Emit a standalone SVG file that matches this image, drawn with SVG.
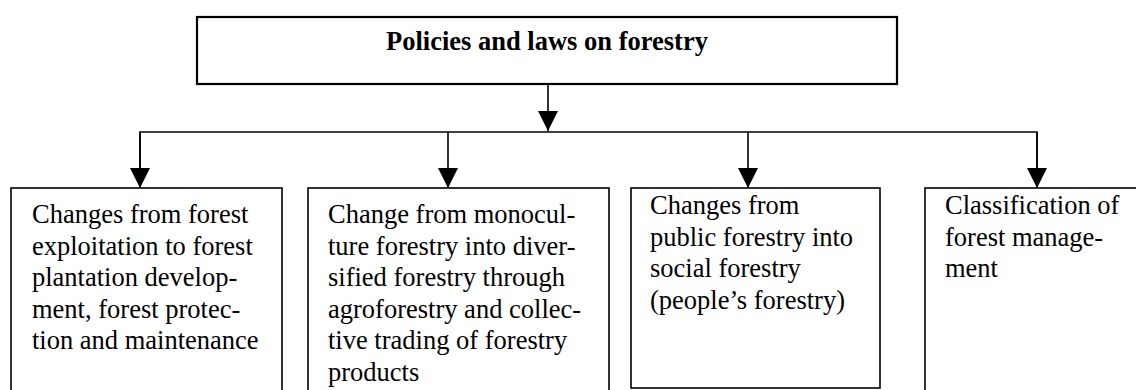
<svg xmlns="http://www.w3.org/2000/svg" width="1136" height="390" viewBox="0 0 1136 390">
<style>
.box{fill:#fff;stroke:#000;stroke-width:1.6}
.top{fill:#fff;stroke:#000;stroke-width:2.2}
.t{font-family:"Liberation Serif","Times New Roman",serif;font-size:26.5px;fill:#000}
.b{font-weight:bold;text-anchor:middle}
.c{fill:none;stroke:#000;stroke-width:1.6}
</style>
<defs>
<marker id="ah" markerUnits="userSpaceOnUse" markerWidth="20" markerHeight="20" refX="20" refY="10" orient="auto" viewBox="0 0 20 20">
<path d="M0,0 L20,10 L0,20 z" fill="#000"/>
</marker>
</defs>
<rect width="1136" height="390" fill="#fff"/>
<g id="connectors">
<line class="c" x1="548" y1="84" x2="548" y2="131" marker-end="url(#ah)"/>
<polyline class="c" points="140,187 140,132 1037,132 1037,187"/>
<line class="c" x1="140" y1="132" x2="140" y2="188" marker-end="url(#ah)"/>
<line class="c" x1="448" y1="132" x2="448" y2="188" marker-end="url(#ah)"/>
<line class="c" x1="748" y1="132" x2="748" y2="188" marker-end="url(#ah)"/>
<line class="c" x1="1037" y1="132" x2="1037" y2="188" marker-end="url(#ah)"/>
</g>
<g id="top-node">
<rect class="top" x="197" y="17" width="700" height="67"/>
<text class="t b" x="547" y="50">Policies and laws on forestry</text>
</g>
<g id="node-1">
<rect class="box" x="11" y="188" width="271" height="230"/>
<text class="t" x="32" y="223">Changes from forest</text>
<text class="t" x="32" y="254.5">exploitation to forest</text>
<text class="t" x="32" y="286">plantation develop-</text>
<text class="t" x="32" y="317.5">ment, forest protec-</text>
<text class="t" x="32" y="349">tion and maintenance</text>
</g>
<g id="node-2">
<rect class="box" x="308" y="188" width="301" height="230"/>
<text class="t" x="328" y="223">Change from monocul-</text>
<text class="t" x="328" y="254.5">ture forestry into diver-</text>
<text class="t" x="328" y="286">sified forestry through</text>
<text class="t" x="328" y="317.5">agroforestry and collec-</text>
<text class="t" x="328" y="349">tive trading of forestry</text>
<text class="t" x="328" y="380.5">products</text>
</g>
<g id="node-3">
<rect class="box" x="631" y="188" width="249" height="200"/>
<text class="t" x="650" y="214">Changes from</text>
<text class="t" x="650" y="245.5">public forestry into</text>
<text class="t" x="650" y="277">social forestry</text>
<text class="t" x="650" y="308.5">(people’s forestry)</text>
</g>
<g id="node-4">
<rect class="box" x="925" y="188" width="240" height="230"/>
<text class="t" x="945" y="214">Classification of</text>
<text class="t" x="945" y="245.5">forest manage-</text>
<text class="t" x="945" y="277">ment</text>
</g>
</svg>
